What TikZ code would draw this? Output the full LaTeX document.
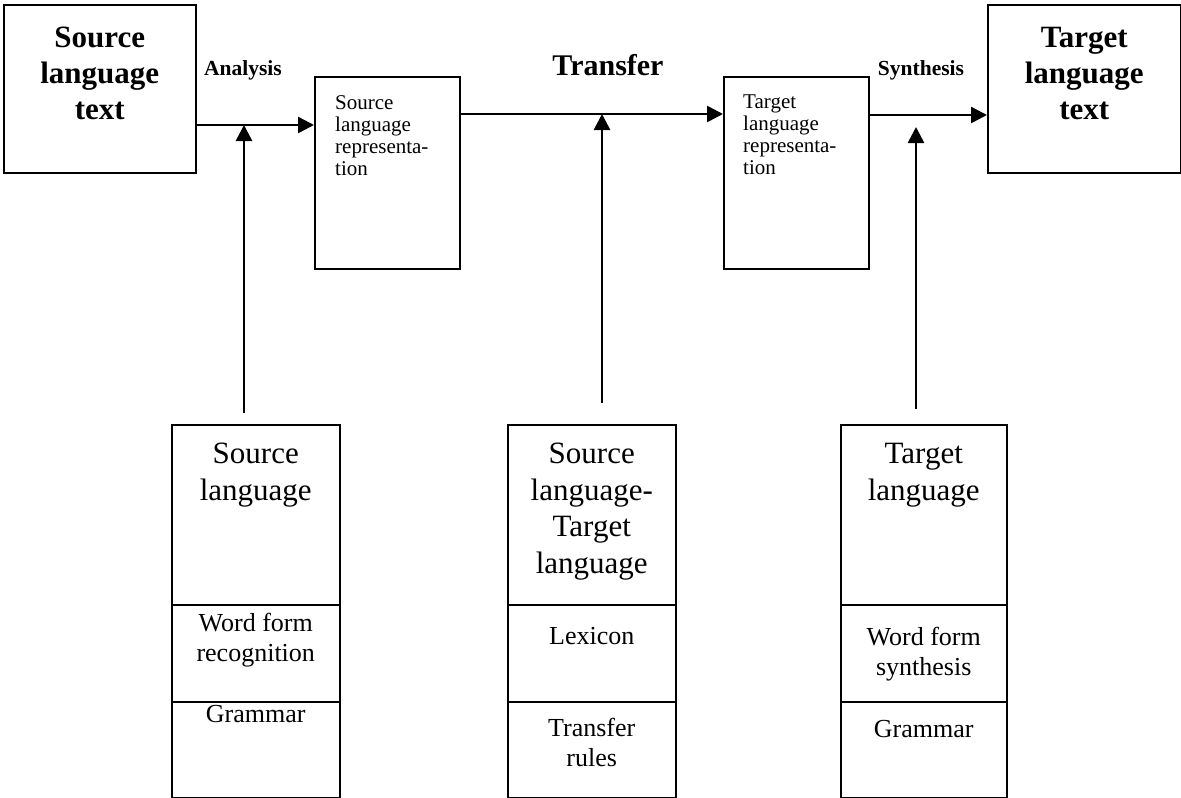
\documentclass[tikz,border=0pt]{standalone}
\usepackage{fontspec}
\setmainfont{Liberation Serif}
\usetikzlibrary{arrows.meta}

\tikzset{
  frame/.style={draw, line width=1.5pt, inner sep=0pt, anchor=north west},
  arr/.style={line width=2.6pt, -{Triangle[length=16pt,width=16pt]}},
  bigbold/.style={font=\bfseries\fontsize{31}{36}\selectfont, align=center, inner sep=0pt, anchor=north},
  rep/.style={font=\fontsize{21}{22}\selectfont, align=left, inner sep=0pt, anchor=north west},
  head/.style={font=\fontsize{31}{36.5}\selectfont, align=center, inner sep=0pt, anchor=north},
  part/.style={font=\fontsize{26}{30}\selectfont, align=center, inner sep=0pt, anchor=north}
}

\begin{document}
\begin{tikzpicture}[x=1pt, y=-1pt]
        \useasboundingbox (0,0) rectangle (1181,798);
        % Top row
        \node[frame, minimum width=192, minimum height=168] (slt) at (3,4) {};
        \node[frame, minimum width=145, minimum height=192] (slr) at (314,76) {};
        \node[frame, minimum width=145, minimum height=192] (tlr) at (723,76) {};
        \node[frame, minimum width=193, minimum height=168] (tlt) at (987,4) {};
        \node[bigbold] (sltT) at ([yshift=-23]slt.north) {Source\\language\\text};
        \node[bigbold] (tltT) at ([yshift=-23]tlt.north) {Target\\language\\text};
        \node[rep] (slrT) at ([xshift=21,yshift=-19]slr.north west) {Source\\language\\representa-\\tion};
        \node[rep] (tlrT) at ([xshift=20,yshift=-19]tlr.north west) {Target\\language\\representa-\\tion};
        % Stage labels
        \node[font=\bfseries\fontsize{21.5}{24}\selectfont, anchor=base, inner sep=0pt] (ana) at (243,75) {Analysis};
        \node[font=\bfseries\fontsize{30}{36}\selectfont, anchor=base, inner sep=0pt] (trf) at (608,75) {Transfer};
        \node[font=\bfseries\fontsize{21.5}{24}\selectfont, anchor=base, inner sep=0pt] (syn) at (921,75) {Synthesis};
        % Bottom columns
        \node[frame, minimum width=168, minimum height=180] (sl1) at (171,424) {};
        \node[frame, minimum width=168, minimum height=97] (sl2) at (171,604) {};
        \node[frame, minimum width=168, minimum height=96] (sl3) at (171,701) {};
        \node[frame, minimum width=168, minimum height=180] (st1) at (507,424) {};
        \node[frame, minimum width=168, minimum height=97] (st2) at (507,604) {};
        \node[frame, minimum width=168, minimum height=96] (st3) at (507,701) {};
        \node[frame, minimum width=166, minimum height=180] (tl1) at (840,424) {};
        \node[frame, minimum width=166, minimum height=97] (tl2) at (840,604) {};
        \node[frame, minimum width=166, minimum height=96] (tl3) at (840,701) {};
        \node[head] (sl1T) at ([yshift=-19]sl1.north) {Source\\language};
        \node[part] (sl2T) at ([yshift=-9]sl2.north) {Word form\\recognition};
        \node[part] (sl3T) at ([yshift=-4]sl3.north) {Grammar};
        \node[head] (st1T) at ([yshift=-19]st1.north) {Source\\language-\\Target\\language};
        \node[part] (st2T) at ([yshift=-23]st2.north) {Lexicon};
        \node[part] (st3T) at ([yshift=-17]st3.north) {Transfer\\rules};
        \node[head] (tl1T) at ([yshift=-19]tl1.north) {Target\\language};
        \node[part] (tl2T) at ([yshift=-23]tl2.north) {Word form\\synthesis};
        \node[part] (tl3T) at ([yshift=-19]tl3.north) {Grammar};
        % Levels and free ends
        \coordinate (lvlA) at (0,125);
        \coordinate (lvlT) at (0,114);
        \coordinate (lvlS) at (0,115);
        \coordinate (anaBot) at (244,413);
        \coordinate (trfBot) at (602,403);
        \coordinate (synBot) at (916,409);
        \coordinate (synTop) at (916,127);
        % Edges
        \draw[arr] (slt.east |- lvlA) -- (slr.west |- lvlA);
        \draw[arr] (slr.east |- lvlT) -- (tlr.west |- lvlT);
        \draw[arr] (tlr.east |- lvlS) -- (tlt.west |- lvlS);
        \draw[arr] (anaBot) -- (anaBot |- lvlA);
        \draw[arr] (trfBot) -- (trfBot |- lvlT);
        \draw[arr] (synBot) -- (synTop);
    \end{tikzpicture}
\end{document}
